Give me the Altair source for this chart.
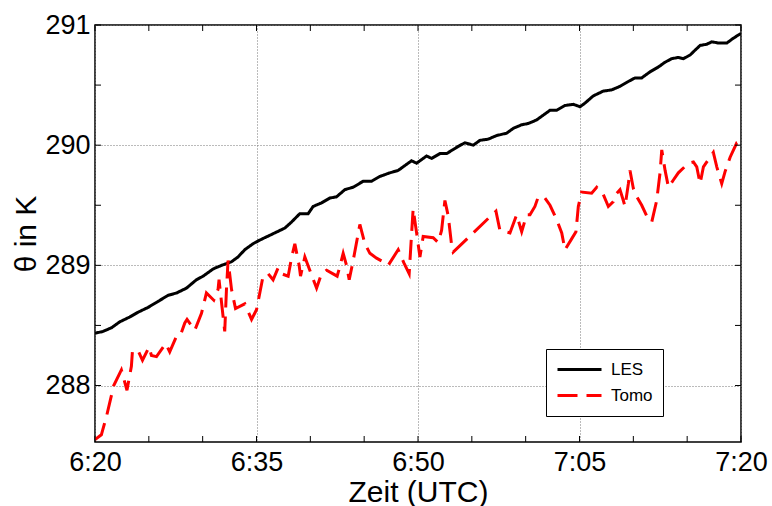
import altair as alt
import pandas as pd

# minutes after 06:20 UTC
les_t = [0.0, 0.74, 1.52, 2.30, 3.22, 4.00, 4.93, 5.86, 6.78, 7.57, 8.49, 9.42, 10.04, 10.97,
         11.75, 12.68, 13.29, 13.91, 14.68, 15.30, 15.77, 16.70, 17.63, 18.25, 19.02, 19.80,
         20.26, 21.04, 21.81, 22.43, 23.21, 23.98, 24.91, 25.69, 26.46, 27.39, 28.16, 28.78,
         29.40, 29.87, 30.80, 31.26, 32.04, 32.66, 33.74, 34.36, 35.13, 35.75, 36.52, 37.30,
         38.23, 38.85, 39.63, 40.24, 41.02, 41.64, 42.26, 42.88, 43.65, 44.42, 45.05, 45.51,
         46.28, 47.21, 47.99, 48.77, 49.54, 50.16, 50.78, 51.55, 52.32, 52.94, 53.57, 54.18,
         54.65, 55.27, 55.73, 56.20, 56.82, 57.29, 57.90, 58.68, 59.29, 60.0]
les_v = [288.435, 288.45, 288.48, 288.53, 288.57, 288.61, 288.65, 288.70, 288.75, 288.77,
         288.81, 288.88, 288.91, 288.97, 289.00, 289.03, 289.07, 289.13, 289.18, 289.21,
         289.23, 289.27, 289.31, 289.36, 289.43, 289.43, 289.49, 289.52, 289.56, 289.57,
         289.63, 289.65, 289.70, 289.70, 289.74, 289.77, 289.79, 289.83, 289.87, 289.85,
         289.91, 289.89, 289.93, 289.93, 289.99, 290.02, 290.00, 290.04, 290.05, 290.08,
         290.10, 290.14, 290.17, 290.18, 290.21, 290.25, 290.29, 290.29, 290.33, 290.34,
         290.32, 290.35, 290.41, 290.45, 290.46, 290.49, 290.53, 290.56, 290.56, 290.61,
         290.65, 290.69, 290.72, 290.73, 290.72, 290.75, 290.79, 290.83, 290.84, 290.86,
         290.85, 290.85, 290.89, 290.93]

tomo_t = [0.0, 0.59, 1.06, 1.74, 2.45, 2.97, 3.38, 3.48, 4.00, 4.41, 5.02, 5.24, 5.71, 6.57,
          6.94, 7.57, 7.94, 8.34, 8.55, 9.27, 9.89, 10.35, 11.03, 11.43, 11.52, 12.05, 12.21,
          12.36, 12.68, 13.05, 13.91, 14.54, 15.00, 15.46, 15.61, 16.08, 16.54, 17.01, 17.32,
          17.94, 18.25, 18.56, 18.96, 19.09, 19.49, 19.95, 20.58, 21.04, 21.51, 22.49, 22.74,
          23.05, 23.36, 23.61, 23.98, 24.60, 25.07, 25.53, 26.15, 26.77, 27.23, 28.16, 28.69,
          29.18, 29.41, 29.55, 29.87, 30.18, 30.48, 31.41, 31.88, 32.19, 32.50, 32.81, 33.12,
          33.27, 35.13, 36.52, 37.24, 37.61, 38.54, 39.16, 39.63, 40.09, 40.40, 40.86, 41.17,
          41.79, 42.26, 42.88, 43.35, 43.65, 44.27, 44.67, 44.89, 45.20, 46.13, 46.60, 47.21,
          47.68, 48.14, 48.46, 48.76, 49.07, 49.23, 49.54, 49.69, 50.00, 50.32, 50.78, 51.25,
          51.71, 52.17, 52.48, 52.64, 52.95, 53.26, 53.72, 54.18, 54.65, 55.11, 55.58, 55.89,
          56.20, 56.51, 57.13, 57.43, 57.75, 58.21, 58.52, 58.99, 59.61, 59.91]
tomo_v = [287.55, 287.59, 287.74, 288.00, 288.13, 287.96, 288.16, 288.29, 288.29, 288.21,
          288.32, 288.25, 288.24, 288.35, 288.28, 288.41, 288.42, 288.52, 288.55, 288.46,
          288.60, 288.77, 288.71, 288.80, 288.88, 288.45, 288.80, 289.04, 288.80, 288.64,
          288.68, 288.55, 288.63, 288.84, 288.91, 288.93, 288.88, 288.98, 288.93, 288.91,
          289.06, 289.18, 289.00, 288.91, 289.07, 288.96, 288.81, 288.93, 288.96, 288.91,
          288.99, 289.10, 289.00, 288.88, 289.04, 289.34, 289.18, 289.10, 289.06, 289.03,
          289.00, 289.13, 289.02, 288.93, 289.27, 289.47, 289.27, 289.07, 289.24, 289.23,
          289.19, 289.29, 289.54, 289.41, 289.17, 289.11, 289.27, 289.39, 289.45, 289.29,
          289.27, 289.42, 289.28, 289.42, 289.42, 289.49, 289.57, 289.56, 289.50, 289.38,
          289.27, 289.13, 289.22, 289.28, 289.49, 289.61, 289.60, 289.65, 289.59, 289.49,
          289.53, 289.60, 289.63, 289.54, 289.49, 289.68, 289.79, 289.64, 289.57, 289.50,
          289.41, 289.36, 289.54, 289.77, 289.96, 289.79, 289.65, 289.71, 289.77, 289.81,
          289.85, 289.86, 289.82, 289.68, 289.82, 289.90, 289.94, 289.82, 289.68, 289.78,
          289.90, 290.02, 290.03]

series_names = ["LES", "Tomo"]
series_colors = ["black", "red"]
series_dashes = [[1, 0], [20, 9]]

x_major = [0, 15, 30, 45, 60]
x_minor = [0, 5, 10, 15, 20, 25, 30, 35, 40, 45, 50, 55, 60]
y_major = [288, 289, 290, 291]
y_minor = [288, 288.5, 289, 289.5, 290, 290.5, 291]
y_domain = [287.53, 291]

W, H = 646, 417
FONT = "Liberation Sans"

df = pd.concat([
    pd.DataFrame({"t": les_t, "v": les_v, "s": series_names[0]}),
    pd.DataFrame({"t": tomo_t, "v": tomo_v, "s": series_names[1]}),
])

label_expr = ("floor((380+datum.value)/60) + ':' + "
              "((380+datum.value)%60 < 10 ? '0' : '') + ((380+datum.value)%60)")

x_axis = alt.Axis(values=x_major, labelExpr=label_expr, title="Zeit (UTC)",
                  grid=True, gridDash=[1, 2], gridColor="#777777", gridWidth=1,
                  ticks=False, tickSize=0, domain=False, labelFlush=False,
                  labelOverlap=False, labelFont=FONT, labelFontSize=27,
                  labelColor="black", labelPadding=7, titleFont=FONT,
                  titleFontSize=30, titleFontWeight="normal", titleColor="black",
                  titlePadding=2)
y_axis = alt.Axis(values=y_major, title="θ in K", grid=True, gridDash=[1, 2],
                  gridColor="#777777", gridWidth=1, ticks=False, tickSize=0,
                  domain=False, labelFlush=False, labelOverlap=False, labelFont=FONT,
                  labelFontSize=27, labelColor="black", labelPadding=5,
                  titleFont=FONT, titleFontSize=30, titleFontWeight="normal",
                  titleColor="black", titlePadding=3)

x_enc = alt.X("t:Q", scale=alt.Scale(domain=[0, 60], nice=False, zero=False), axis=x_axis)
y_enc = alt.Y("v:Q", scale=alt.Scale(domain=y_domain, nice=False, zero=False), axis=y_axis)

legend = alt.Legend(title=None, orient="none", legendX=451, legendY=324,
                    strokeColor="black", fillColor="white", padding=10,
                    symbolType="stroke", symbolSize=1936, symbolStrokeWidth=3,
                    clipHeight=21, labelFont=FONT, labelFontSize=17,
                    labelColor="black", labelOffset=8, rowPadding=5,
                    labelLimit=46)

lines = alt.Chart(df).mark_line(strokeWidth=3, clip=True).encode(
    x=x_enc,
    y=y_enc,
    color=alt.Color("s:N", scale=alt.Scale(domain=series_names, range=series_colors),
                    legend=legend),
    strokeDash=alt.StrokeDash("s:N", scale=alt.Scale(domain=series_names,
                                                     range=series_dashes),
                              legend=legend),
    order=alt.Order("t:Q"),
)

xt = pd.DataFrame({"t": x_minor})
yt = pd.DataFrame({"v": y_minor})

tick_bottom = alt.Chart(xt).mark_rule(color="black", strokeWidth=1).encode(
    x=x_enc, y=alt.value(H), y2=alt.value(H - 6))
tick_top = alt.Chart(xt).mark_rule(color="black", strokeWidth=1).encode(
    x=x_enc, y=alt.value(0), y2=alt.value(6))
tick_left = alt.Chart(yt).mark_rule(color="black", strokeWidth=1).encode(
    y=y_enc, x=alt.value(0), x2=alt.value(6))
tick_right = alt.Chart(yt).mark_rule(color="black", strokeWidth=1).encode(
    y=y_enc, x=alt.value(W - 6), x2=alt.value(W))

chart = alt.layer(lines, tick_bottom, tick_top, tick_left, tick_right).properties(
    width=W, height=H,
    autosize=alt.AutoSizeParams(type="none"),
    padding={"left": 95, "top": 25, "right": 31, "bottom": 64},
    background="white",
).configure_view(stroke="black", strokeWidth=1.5)

chart.save("out.html", embed_options={"renderer": "svg", "actions": False})
